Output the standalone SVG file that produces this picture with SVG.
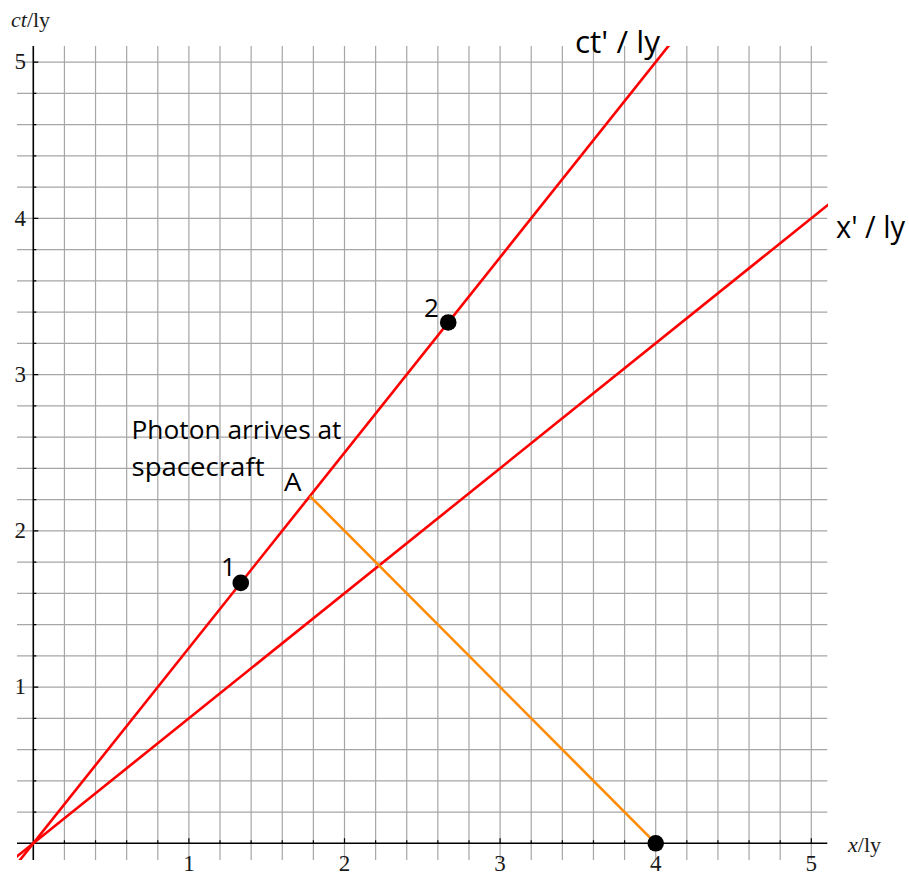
<svg xmlns="http://www.w3.org/2000/svg" width="909" height="876" viewBox="0 0 909 876">
<style>
.grid{stroke:#a6a6a6;stroke-width:1.2;fill:none}
.axis{stroke:#000;stroke-width:1.6;fill:none}
.tick{stroke:#000;stroke-width:1.2;fill:none}
.red{stroke:#ff0000;stroke-width:2.6;fill:none}
.orange{stroke:#ff8c00;stroke-width:2.6;fill:none}
.dot{fill:#000}
.num{font-family:"Liberation Serif","Times New Roman",serif;font-size:23px;fill:#1a1a1a}
.lab{font-family:"Liberation Serif","Times New Roman",serif;font-size:22px;fill:#1a1a1a}
.sans{font-family:"Open Sans","Noto Sans","DejaVu Sans",sans-serif;font-size:26px;fill:#000}
.big{font-family:"Open Sans","Noto Sans","DejaVu Sans",sans-serif;font-size:31px;fill:#000}
</style>
<defs>
<clipPath id="plot"><rect x="17" y="46" width="811" height="814"/></clipPath>
</defs>
<rect width="909" height="876" fill="#fff"/>
<g id="grid">
<path class="grid" d="M64.42 46V860M95.54 46V860M126.66 46V860M157.78 46V860M188.9 46V860M220.02 46V860M251.14 46V860M282.26 46V860M313.38 46V860M344.5 46V860M375.62 46V860M406.74 46V860M437.86 46V860M468.98 46V860M500.1 46V860M531.22 46V860M562.34 46V860M593.46 46V860M624.58 46V860M655.7 46V860M686.82 46V860M717.94 46V860M749.06 46V860M780.18 46V860M811.3 46V860"/>
<path class="grid" d="M17 812.05H827.3M17 780.8H827.3M17 749.55H827.3M17 718.3H827.3M17 687.05H827.3M17 655.8H827.3M17 624.55H827.3M17 593.3H827.3M17 562.05H827.3M17 530.8H827.3M17 499.55H827.3M17 468.3H827.3M17 437.05H827.3M17 405.8H827.3M17 374.55H827.3M17 343.3H827.3M17 312.05H827.3M17 280.8H827.3M17 249.55H827.3M17 218.3H827.3M17 187.05H827.3M17 155.8H827.3M17 124.55H827.3M17 93.3H827.3M17 62.05H827.3"/>
</g>
<g id="axes">
<path class="axis" d="M33.3 46V860M17 843.3H827.3"/>
<path class="tick" d="M33.3 812.05h3M33.3 780.8h3M33.3 749.55h3M33.3 718.3h3M33.3 687.05h5M33.3 655.8h3M33.3 624.55h3M33.3 593.3h3M33.3 562.05h3M33.3 530.8h5M33.3 499.55h3M33.3 468.3h3M33.3 437.05h3M33.3 405.8h3M33.3 374.55h5M33.3 343.3h3M33.3 312.05h3M33.3 280.8h3M33.3 249.55h3M33.3 218.3h5M33.3 187.05h3M33.3 155.8h3M33.3 124.55h3M33.3 93.3h3M33.3 62.05h5"/>
<path class="tick" d="M64.42 843.3v-3M95.54 843.3v-3M126.66 843.3v-3M157.78 843.3v-3M188.9 843.3v-5M220.02 843.3v-3M251.14 843.3v-3M282.26 843.3v-3M313.38 843.3v-3M344.5 843.3v-5M375.62 843.3v-3M406.74 843.3v-3M437.86 843.3v-3M468.98 843.3v-3M500.1 843.3v-5M531.22 843.3v-3M562.34 843.3v-3M593.46 843.3v-3M624.58 843.3v-3M655.7 843.3v-5M686.82 843.3v-3M717.94 843.3v-3M749.06 843.3v-3M780.18 843.3v-3M811.3 843.3v-5"/>
<g class="num" text-anchor="end">
<text x="26" y="694">1</text>
<text x="26" y="538">2</text>
<text x="26" y="382">3</text>
<text x="26" y="225.5">4</text>
<text x="26" y="69">5</text>
</g>
<g class="num" text-anchor="middle">
<text x="188.9" y="871">1</text>
<text x="344.5" y="871">2</text>
<text x="500.1" y="871">3</text>
<text x="655.7" y="871">4</text>
<text x="811.3" y="871">5</text>
</g>
<text class="lab" x="11" y="27"><tspan font-style="italic">ct</tspan>/ly</text>
<text class="lab" x="848" y="852"><tspan font-style="italic">x</tspan>/ly</text>
</g>
<g id="connectors" clip-path="url(#plot)">
<line id="ct-prime-axis" class="red" x1="2.18" y1="882.36" x2="686.82" y2="22.99"/>
<line id="x-prime-axis" class="red" x1="2.18" y1="868.3" x2="842.4" y2="193.3"/>
<line id="photon" class="orange" x1="309.92" y1="496.08" x2="655.7" y2="843.3"/>
</g>
<g id="point-1"><circle class="dot" cx="240.77" cy="582.88" r="8.3"/><text class="sans" x="221" y="576">1</text></g>
<g id="point-2"><circle class="dot" cx="448.23" cy="322.47" r="8.3"/><text class="sans" x="424" y="317">2</text></g>
<g id="point-A"><text class="sans" x="284" y="491" textLength="17.5" lengthAdjust="spacingAndGlyphs">A</text></g>
<g id="emission"><circle class="dot" cx="655.7" cy="843.3" r="8.3"/></g>
<g id="note">
<text class="sans" x="131.5" y="439" textLength="210" lengthAdjust="spacingAndGlyphs">Photon arrives at</text>
<text class="sans" x="131.5" y="476" textLength="133" lengthAdjust="spacingAndGlyphs">spacecraft</text>
</g>
<g id="axis-labels">
<text class="big" x="575" y="53" textLength="85" lengthAdjust="spacingAndGlyphs">ct' / ly</text>
<text class="big" x="836" y="238" textLength="69" lengthAdjust="spacingAndGlyphs">x' / ly</text>
</g>
</svg>
